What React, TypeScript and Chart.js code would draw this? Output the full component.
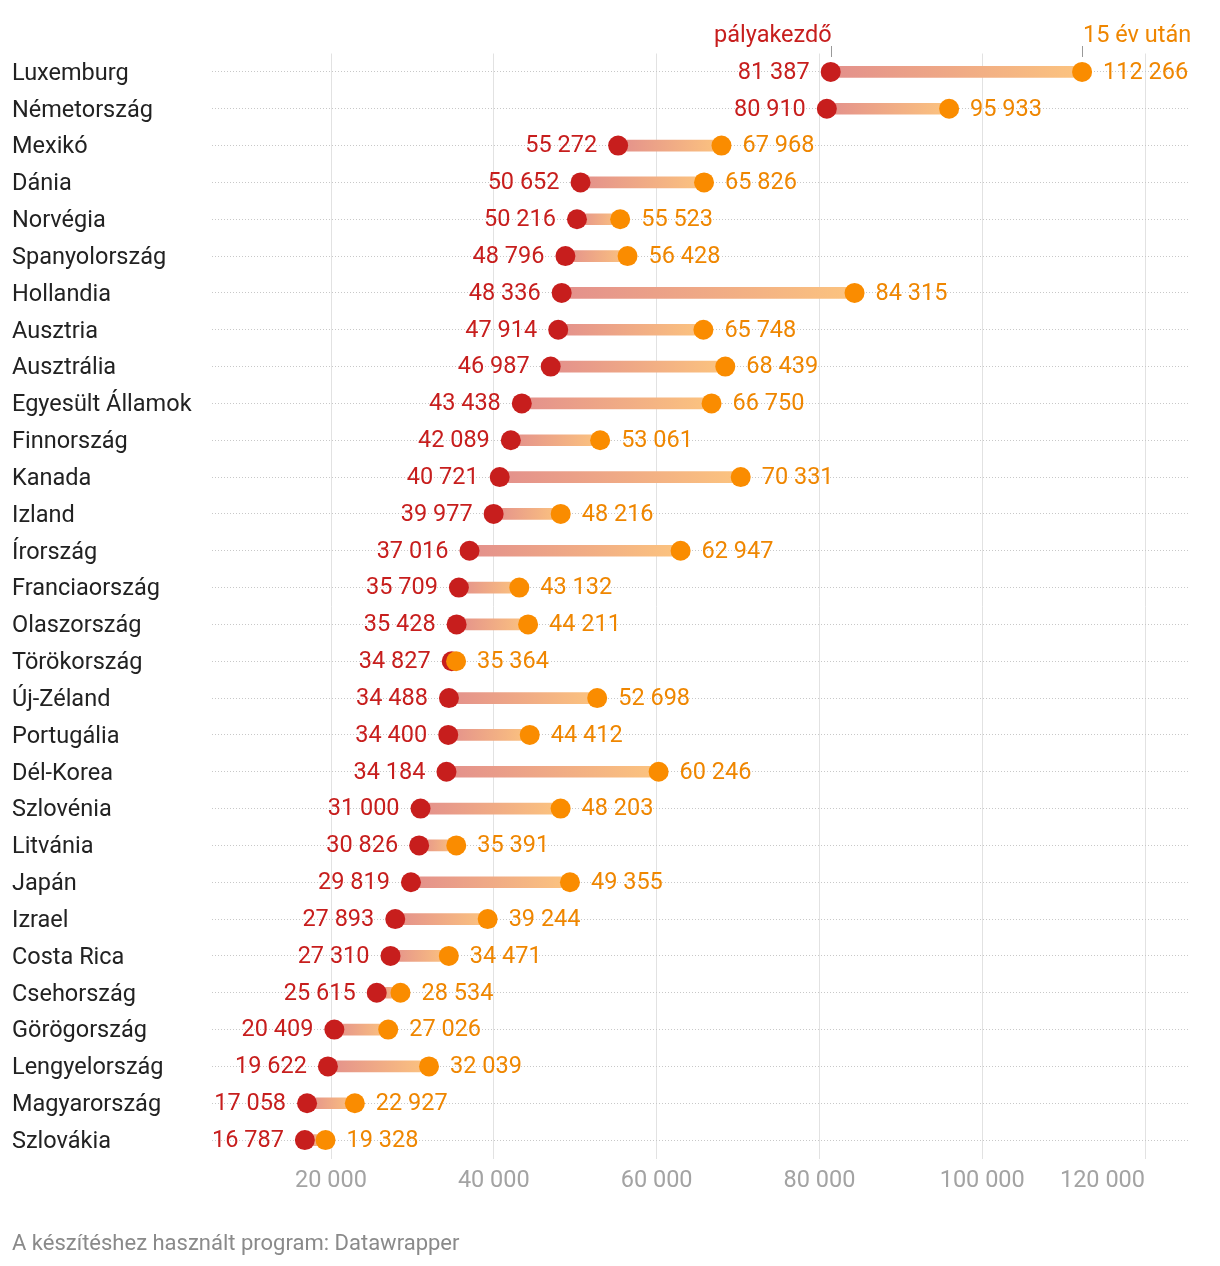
import React, { useEffect, useRef } from "react";
import { Chart, registerables } from "chart.js";
Chart.register(...registerables);

const countries = [
  "Luxemburg", "Németország", "Mexikó", "Dánia", "Norvégia", "Spanyolország",
  "Hollandia", "Ausztria", "Ausztrália", "Egyesült Államok", "Finnország",
  "Kanada", "Izland", "Írország", "Franciaország", "Olaszország", "Törökország",
  "Új-Zéland", "Portugália", "Dél-Korea", "Szlovénia", "Litvánia", "Japán",
  "Izrael", "Costa Rica", "Csehország", "Görögország", "Lengyelország",
  "Magyarország", "Szlovákia",
];
const starting = [
  81387, 80910, 55272, 50652, 50216, 48796, 48336, 47914, 46987, 43438, 42089,
  40721, 39977, 37016, 35709, 35428, 34827, 34488, 34400, 34184, 31000, 30826,
  29819, 27893, 27310, 25615, 20409, 19622, 17058, 16787,
];
const after15 = [
  112266, 95933, 67968, 65826, 55523, 56428, 84315, 65748, 68439, 66750, 53061,
  70331, 48216, 62947, 43132, 44211, 35364, 52698, 44412, 60246, 48203, 35391,
  49355, 39244, 34471, 28534, 27026, 32039, 22927, 19328,
];
const xTicks = [20000, 40000, 60000, 80000, 100000, 120000];
const headerStart = "pályakezdő";
const headerEnd = "15 év után";
const footer = "A készítéshez használt program: Datawrapper";

const RED = "#c71e1d";
const ORANGE = "#fa8c00";
const ORANGE_TEXT = "#ef8600";
const FONT = "Roboto";

const fmt = (v: number) => String(v).replace(/\B(?=(\d{3})+(?!\d))/g, " ");

export default function App() {
  const ref = useRef<HTMLCanvasElement>(null);
  useEffect(() => {
    document.body.style.margin = "0";
    const canvas = ref.current!;

    const labelsPlugin = {
      id: "valueLabels",
      afterDatasetsDraw(chart: any) {
        const { ctx, scales } = chart;
        const x = scales.x;
        const y = scales.y;
        ctx.save();
        ctx.font = `23.5px ${FONT}`;
        ctx.textBaseline = "middle";
        countries.forEach((_, i) => {
          const yy = y.getPixelForValue(i) + 1;
          ctx.fillStyle = RED;
          ctx.textAlign = "right";
          ctx.fillText(fmt(starting[i]), x.getPixelForValue(starting[i]) - 21, yy);
          ctx.fillStyle = ORANGE_TEXT;
          ctx.textAlign = "left";
          ctx.fillText(fmt(after15[i]), x.getPixelForValue(after15[i]) + 21, yy);
        });
        // header
        const hx0 = x.getPixelForValue(starting[0]);
        const hx1 = x.getPixelForValue(after15[0]);
        ctx.fillStyle = RED;
        ctx.textAlign = "right";
        ctx.fillText(headerStart, hx0 + 1, 36.5);
        ctx.fillStyle = ORANGE_TEXT;
        ctx.textAlign = "left";
        ctx.fillText(headerEnd, hx1 + 1, 36.5);
        ctx.strokeStyle = "#999";
        ctx.lineWidth = 1;
        [hx0, hx1].forEach((px) => {
          ctx.beginPath();
          ctx.moveTo(Math.round(px) + 0.5, 46);
          ctx.lineTo(Math.round(px) + 0.5, 57);
          ctx.stroke();
        });
        // x tick labels
        ctx.fillStyle = "#a3a3a3";
        xTicks.forEach((t, i) => {
          const px = x.getPixelForValue(t);
          ctx.textAlign = i === xTicks.length - 1 ? "right" : "center";
          ctx.fillText(fmt(t), px, 1181);
        });
        // footer
        ctx.font = `22px ${FONT}`;
        ctx.fillStyle = "#8a8a8a";
        ctx.textAlign = "left";
        ctx.fillText(footer, 12, 1244);
        ctx.restore();
      },
    };

    const chart = new Chart(canvas, {
      type: "bar",
      data: {
        labels: countries,
        datasets: [
          {
            type: "bar",
            data: starting.map((s, i) => [s, after15[i]]) as any,
            barThickness: 11,
            borderWidth: 0,
            order: 3,
            backgroundColor: (c: any) => {
              const ch = c.chart;
              const xs = ch.scales && ch.scales.x;
              if (!xs || c.dataIndex === undefined) return "rgba(240,160,120,1)";
              const i = c.dataIndex;
              const x0 = xs.getPixelForValue(starting[i]);
              const x1 = xs.getPixelForValue(after15[i]);
              if (!isFinite(x0) || !isFinite(x1) || x0 === x1) return "#e8948e";
              const g = ch.ctx.createLinearGradient(x0, 0, x1, 0);
              g.addColorStop(0, "#e3908c");
              g.addColorStop(1, "#fcc47f");
              return g;
            },
          } as any,
          {
            type: "line",
            indexAxis: "y",
            data: starting,
            showLine: false,
            pointRadius: 10,
            pointHoverRadius: 10,
            pointBorderWidth: 0,
            pointBackgroundColor: RED,
            borderColor: RED,
            order: 2,
          } as any,
          {
            type: "line",
            indexAxis: "y",
            data: after15,
            showLine: false,
            pointRadius: 10,
            pointHoverRadius: 10,
            pointBorderWidth: 0,
            pointBackgroundColor: ORANGE,
            borderColor: ORANGE,
            order: 1,
          } as any,
        ],
      },
      options: {
        indexAxis: "y",
        responsive: false,
        animation: false,
        events: [],
        layout: { padding: { left: 12, right: 32, top: 53.5, bottom: 107.5 } },
        plugins: { legend: { display: false }, tooltip: { enabled: false } },
        scales: {
          x: {
            type: "linear",
            min: 5380,
            max: 125280,
            afterBuildTicks: (s: any) => {
              s.ticks = xTicks.map((v) => ({ value: v }));
            },
            afterFit: (s: any) => {
              s.height = 0;
            },
            ticks: { display: false },
            grid: { color: "#e2e2e2", lineWidth: 1, drawTicks: false },
            border: { display: false },
          },
          y: {
            type: "category",
            offset: true,
            afterFit: (s: any) => {
              s.width = 200;
            },
            ticks: {
              crossAlign: "far",
              padding: 0,
              labelOffset: 2,
              color: "#222",
              font: { family: FONT, size: 23.5 },
            },
            grid: { color: "#c8c8c8", lineWidth: 1, offset: false, drawTicks: false },
            border: { display: false, dash: [1, 2] },
          },
        },
      } as any,
      plugins: [labelsPlugin],
    });
    return () => chart.destroy();
  }, []);

  return (
    <div style={{ width: 1220, height: 1266 }}>
      <canvas ref={ref} width={1220} height={1266} style={{ width: 1220, height: 1266 }} />
    </div>
  );
}
